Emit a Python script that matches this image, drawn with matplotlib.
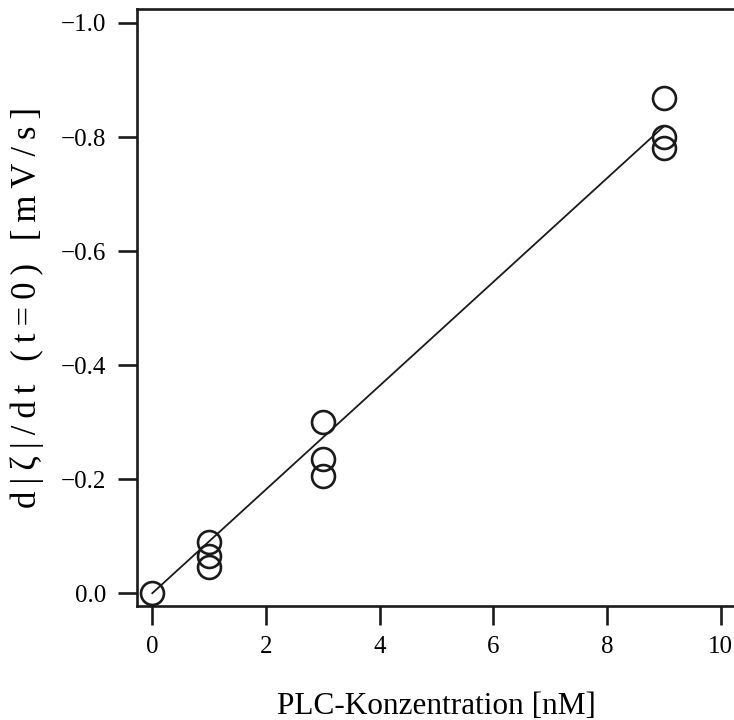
import matplotlib
matplotlib.use("Agg")
import matplotlib.pyplot as plt
import numpy as np

# PLC concentration [nM] and initial zeta-potential rate [mV/s]
conc = [0, 1, 1, 1, 3, 3, 3, 9, 9, 9]
rate = [0.0, -0.09, -0.066, -0.046, -0.30, -0.235, -0.205, -0.868, -0.80, -0.78]

# linear fit through the origin
fit_slope = -0.091
fit_x = [0, 9]

plt.rcParams["font.family"] = ["Liberation Serif", "DejaVu Serif"]

fig = plt.figure(figsize=(7.34, 7.2), dpi=100)
ax = fig.add_axes([0.1866, 0.1587, 0.8164, 0.8284])

ax.plot(fit_x, [fit_slope * x for x in fit_x], color="#1a1a1a", linewidth=1.3, zorder=2)
ax.plot(conc, rate, linestyle="none", marker="o", markersize=16.5,
        markerfacecolor="none", markeredgecolor="#1a1a1a", markeredgewidth=1.9, zorder=3)

ax.set_xlim(-0.27, 10.27)
ax.set_ylim(0.022, -1.024)
ax.set_xticks(np.arange(0, 11, 2))
ax.set_yticks(np.arange(0.0, -1.01, -0.2))
ax.set_yticklabels([f"{v:.1f}".replace("-", "\u2212") for v in np.arange(0.0, -1.01, -0.2)])

for s in ax.spines.values():
    s.set_linewidth(1.9)
    s.set_color("#1a1a1a")
ax.tick_params(direction="out", length=14, width=1.9, color="#1a1a1a",
               labelsize=18, pad=8)

ylabel = "d|\u03b6|/dt (t=0) [mV/s]"
ax.set_xlabel("PLC-Konzentration [nM]", fontsize=22.5, labelpad=24)
# the y label is set with slightly wider letter spacing
ax.set_ylabel("\u2009".join(ylabel), fontsize=25, labelpad=12)

fig.savefig("out.png", dpi=100)
